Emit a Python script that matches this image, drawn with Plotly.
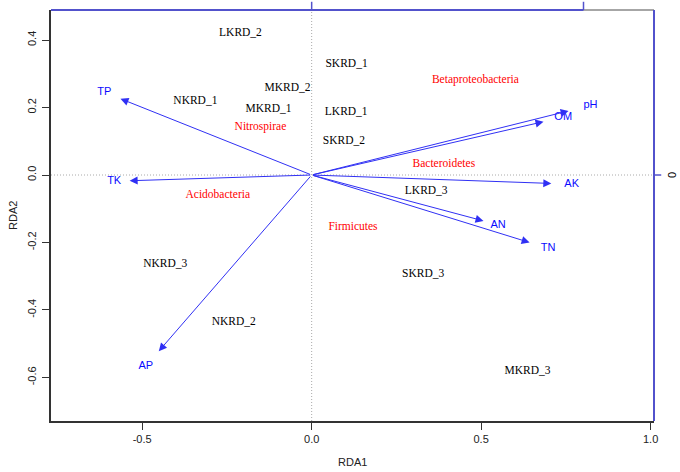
import plotly.graph_objects as go

# Образцы (sites) - координаты RDA1 / RDA2
sites = ['LKRD_2', 'SKRD_1', 'MKRD_2', 'NKRD_1', 'MKRD_1', 'LKRD_1', 'SKRD_2',
         'LKRD_3', 'NKRD_3', 'NKRD_2', 'SKRD_3', 'MKRD_3']
site_x = [-0.210, 0.103, -0.071, -0.343, -0.127, 0.102, 0.095,
          0.338, -0.432, -0.230, 0.329, 0.637]
site_y = [0.421, 0.328, 0.257, 0.219, 0.195, 0.185, 0.100,
          -0.049, -0.264, -0.435, -0.295, -0.581]

# Бактерии (species)
species = ['Betaproteobacteria', 'Nitrospirae', 'Acidobacteria', 'Bacteroidetes', 'Firmicutes']
species_x = [0.483, -0.151, -0.277, 0.390, 0.122]
species_y = [0.281, 0.143, -0.059, 0.032, -0.155]

# Факторы среды (стрелки)
env = ['TP', 'TK', 'AP', 'pH', 'OM', 'AK', 'AN', 'TN']
env_x = [-0.564, -0.537, -0.451, 0.758, 0.684, 0.707, 0.507, 0.643]
env_y = [0.226, -0.017, -0.522, 0.190, 0.158, -0.025, -0.136, -0.200]

x_ticks = [-0.5, 0.0, 0.5, 1.0]
x_tick_text = ['-0.5', '0.0', '0.5', '1.0']
y_ticks = [-0.6, -0.4, -0.2, 0.0, 0.2, 0.4]
y_tick_text = ['-0.6', '-0.4', '-0.2', '0.0', '0.2', '0.4']

label_mul = 1.085
blue = '#0a0aff'
arrow_blue = '#3030f4'
axis_blue = '#5252cc'
serif = 'Liberation Serif, Times New Roman, serif'
sans = 'Liberation Sans, Arial, sans-serif'

fig = go.Figure()

# Подписи образцов
fig.add_trace(go.Scatter(x=site_x, y=site_y, mode='text', text=sites,
                         textfont=dict(family=serif, size=11.5, color='black'),
                         hoverinfo='skip'))
# Подписи бактерий
fig.add_trace(go.Scatter(x=species_x, y=species_y, mode='text', text=species,
                         textfont=dict(family=serif, size=11.5, color='#ff0000'),
                         hoverinfo='skip'))
# Подписи факторов у концов стрелок
fig.add_trace(go.Scatter(x=[v * label_mul for v in env_x], y=[v * label_mul for v in env_y],
                         mode='text', text=env,
                         textfont=dict(family=sans, size=11, color=blue),
                         hoverinfo='skip'))

# Стрелки
for name, ex, ey in zip(env, env_x, env_y):
    fig.add_annotation(x=ex, y=ey, ax=0, ay=0, xref='x', yref='y', axref='x', ayref='y',
                       text='', showarrow=True, arrowhead=2, arrowsize=1.6,
                       arrowwidth=1, arrowcolor=arrow_blue, standoff=0)

# Пунктирные нулевые линии
fig.add_shape(type='line', xref='x', yref='paper', x0=0, x1=0, y0=0, y1=1, layer='below',
              line=dict(color='#aaaaaa', width=1, dash='1px,2px'))
fig.add_shape(type='line', xref='paper', yref='y', x0=0, x1=1, y0=0, y1=0, layer='below',
              line=dict(color='#aaaaaa', width=1, dash='1px,2px'))

# Рамка сверху и справа (вторичные оси)
fig.add_shape(type='line', xref='paper', yref='paper', x0=0, x1=1, y0=1, y1=1,
              line=dict(color='#888888', width=1.5))
fig.add_shape(type='line', xref='paper', yref='paper', x0=0, x1=0.883, y0=1, y1=1,
              line=dict(color=axis_blue, width=2))
fig.add_shape(type='line', xref='paper', yref='paper', x0=1, x1=1, y0=0, y1=1,
              line=dict(color=axis_blue, width=2))
for tx in [0.0, 0.802]:
    fig.add_shape(type='line', xref='x', yref='paper', x0=tx, x1=tx, y0=1, y1=1.02,
                  line=dict(color=axis_blue, width=1.5))
fig.add_shape(type='line', xref='paper', yref='y', x0=1, x1=1.012, y0=0, y1=0,
              line=dict(color=axis_blue, width=1.5))
fig.add_annotation(x=1.03, y=0, xref='paper', yref='y', text='0', showarrow=False,
                   xanchor='center', yanchor='middle', textangle=-90,
                   font=dict(family=sans, size=11, color='black'))

# Подписи осей
fig.add_annotation(x=0.5, y=-0.099, xref='paper', yref='paper', text='RDA1', showarrow=False,
                   xanchor='center', yanchor='middle',
                   font=dict(family=sans, size=11, color='#222222'))
fig.add_annotation(x=-0.064, y=0.5, xref='paper', yref='paper', text='RDA2', showarrow=False,
                   xanchor='center', yanchor='middle', textangle=-90,
                   font=dict(family=sans, size=11, color='#222222'))

fig.update_xaxes(range=[-0.769, 1.010], tickvals=x_ticks, ticktext=x_tick_text,
                 showgrid=False, zeroline=False, showline=True, linecolor='#333333', linewidth=1.5,
                 ticks='outside', ticklen=7, tickcolor='#333333',
                 tickfont=dict(family=sans, size=11, color='#222222'))
fig.update_yaxes(range=[-0.729, 0.489], tickvals=y_ticks, ticktext=y_tick_text,
                 showgrid=False, zeroline=False, showline=True, linecolor='#333333', linewidth=1.5,
                 ticks='outside', ticklen=7, tickcolor='#333333', tickangle=-90,
                 ticklabelstandoff=2,
                 tickfont=dict(family=sans, size=11, color='#222222'))

fig.update_layout(width=680, height=472, showlegend=False,
                  margin=dict(l=51, r=26, t=10, b=51),
                  plot_bgcolor='white', paper_bgcolor='white')

# убираем отступ body, чтобы график стоял в углу окна
fig.write_html('out.html', config={'displayModeBar': False},
               post_script="document.body.style.margin='0px';")
